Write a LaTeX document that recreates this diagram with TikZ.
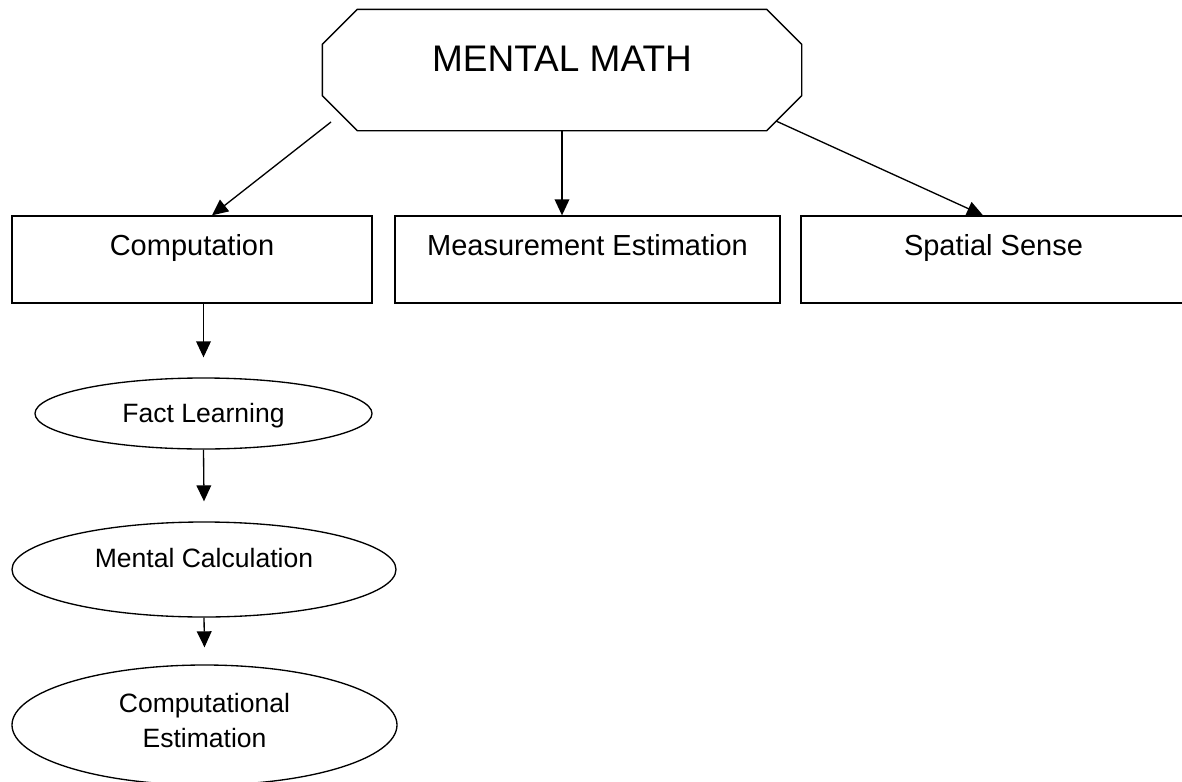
\documentclass[tikz,border=0pt]{standalone}
\usepackage{fontspec}
\setmainfont{Liberation Sans}
\usetikzlibrary{shapes.geometric,arrows.meta}
\newdimen\pxu
\pxu=0.75pt
\begin{document}
\begin{tikzpicture}[x=0.75pt, y=-0.75pt, line width=1pt, >={Triangle[length=12pt,width=11pt]},
		topbox/.style={draw, rectangle, minimum width=#1, minimum height=87\pxu, inner sep=0pt,
			text height=21\pxu, text depth=30\pxu, font=\fontsize{21.75}{26}\selectfont},
		bubble/.style={draw, ellipse, inner sep=0pt, font=\fontsize{19.9}{26.25}\selectfont}]
	\useasboundingbox (0,0) rectangle (1182,782);
	\node[rectangle, minimum width=478\pxu, minimum height=120\pxu, inner sep=0pt, text height=27\pxu, text depth=25\pxu,
		font=\fontsize{27.75}{33}\selectfont] (mm) at (562,70) {MENTAL MATH};
	% octagon round the title
	\draw ([xshift=35\pxu]mm.north west) -- ([xshift=-35\pxu]mm.north east) -- ([yshift=-35\pxu]mm.north east)
		-- ([yshift=35\pxu]mm.south east) -- ([xshift=-35\pxu]mm.south east) -- ([xshift=35\pxu]mm.south west)
		-- ([yshift=35\pxu]mm.south west) -- ([yshift=-35\pxu]mm.north west) -- cycle;
	\node[topbox=360\pxu] (comp) at (192,259.5) {Computation};
	\node[topbox=385\pxu] (meas) at (587.5,259.5) {Measurement Estimation};
	\node[topbox=385\pxu] (spat) at (993.5,259.5) {Spatial Sense};
	\node[bubble, minimum width=337\pxu, minimum height=71\pxu, text height=19.5\pxu, text depth=2.5\pxu] (fact) at (203.5,413.5) {Fact Learning};
	\node[bubble, minimum width=384\pxu, minimum height=95\pxu, text height=19.5\pxu, text depth=24.5\pxu] (calc) at (204,569.5) {Mental Calculation};
	\node[bubble, align=center, minimum width=385\pxu, minimum height=120\pxu, text height=54.5\pxu, text depth=10.5\pxu] (est) at (204.5,725) {Computational\\Estimation};
	% arrows
	\draw[->] ([shift={(-231,52)}]mm.center) -- ([xshift=20\pxu]comp.north);
	\draw[->] (mm.south) -- (mm.south |- meas.north);
	\draw[->] ([shift={(214,51)}]mm.center) -- ([xshift=-10.5\pxu]spat.north);
	\draw[->] (fact.north |- comp.south) -- ([yshift=20\pxu]fact.north);
	\draw[->] (fact.south) -- ([yshift=20\pxu]calc.north);
	\draw[->] (calc.south) -- ([yshift=17\pxu]est.north);
\end{tikzpicture}
\end{document}
